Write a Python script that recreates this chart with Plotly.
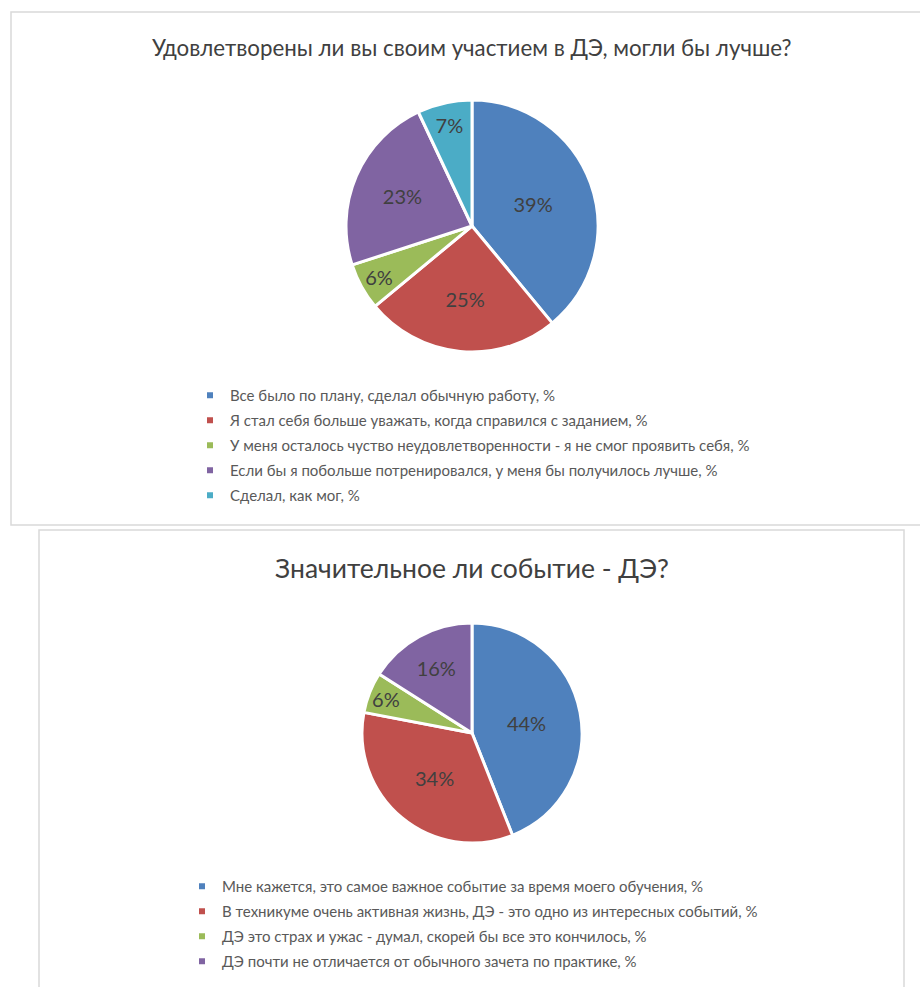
import plotly.graph_objects as go

W, H = 920, 987

# ---- data ----
title1 = "Удовлетворены ли вы своим участием в ДЭ, могли бы лучше?"
labels1 = [
    "Все было по плану, сделал обычную работу, %",
    "Я стал себя больше уважать, когда справился с заданием, %",
    "У меня осталось чуство неудовлетворенности - я не смог проявить себя, %",
    "Если бы я побольше потренировался, у меня бы получилось лучше, %",
    "Сделал, как мог, %",
]
values1 = [39, 25, 6, 23, 7]

title2 = "Значительное ли событие - ДЭ?"
labels2 = [
    "Мне кажется, это самое важное событие за время моего обучения, %",
    "В техникуме очень активная жизнь, ДЭ - это одно из интересных событий, %",
    "ДЭ это страх и ужас - думал, скорей бы все это кончилось, %",
    "ДЭ почти не отличается от обычного зачета по практике, %",
]
values2 = [44, 34, 6, 16]

colors = ["#4F81BD", "#C0504D", "#9BBB59", "#8064A2", "#4BACC6"]

FONT = "Lato"
TXT = "#404040"
LEG = "#595959"


def fx(x):
    return x / W


def fy(y):
    return 1 - y / H


fig = go.Figure()


def add_pie(labels, values, cx, cy, r, legend):
    fig.add_trace(go.Pie(
        labels=labels, values=values,
        text=[f"{v}%" for v in values], textinfo="text",
        textposition="inside", insidetextorientation="horizontal",
        textfont=dict(family=FONT, size=20, color=TXT),
        marker=dict(colors=colors[:len(values)], line=dict(color="white", width=3)),
        sort=False, direction="clockwise", rotation=0,
        domain=dict(x=[fx(cx - r), fx(cx + r)], y=[fy(cy + r), fy(cy - r)]),
        showlegend=False, hoverinfo="label+percent",
    ))
    for i, lab in enumerate(labels):
        fig.add_trace(go.Scatter(
            x=[None], y=[None], mode="markers", name=lab,
            marker=dict(symbol="square", size=6, color=colors[i]),
            legend=legend, legendgroup=f"{legend}_{i}", showlegend=True,
        ))


add_pie(labels1, values1, 472, 226, 126, "legend")
add_pie(labels2, values2, 472, 733, 110, "legend2")

leg_common = dict(
    font=dict(family=FONT, size=15, color=LEG),
    bgcolor="rgba(0,0,0,0)", borderwidth=0,
    tracegroupgap=2.5, xanchor="left", yanchor="top", traceorder="grouped",
)
fig.update_layout(
    width=W, height=H,
    margin=dict(l=0, r=0, t=0, b=0),
    paper_bgcolor="white", plot_bgcolor="white",
    xaxis=dict(visible=False), yaxis=dict(visible=False),
    legend=dict(x=fx(190), y=fy(379), **leg_common),
    legend2=dict(x=fx(182), y=fy(870), **leg_common),
    uniformtext=dict(mode="show", minsize=20),
    shapes=[
        dict(type="rect", xref="paper", yref="paper",
             x0=fx(11), x1=fx(930), y0=fy(525), y1=fy(12),
             line=dict(color="#D9D9D9", width=1.5)),
        dict(type="rect", xref="paper", yref="paper",
             x0=fx(39), x1=fx(904), y0=fy(1000), y1=fy(530),
             line=dict(color="#D9D9D9", width=1.5)),
    ],
    annotations=[
        dict(text=title1, x=fx(471), y=fy(47), xref="paper", yref="paper",
             showarrow=False, xanchor="center", yanchor="middle",
             font=dict(family=FONT, size=22.3, color=TXT)),
        dict(text=title2, x=fx(472), y=fy(568), xref="paper", yref="paper",
             showarrow=False, xanchor="center", yanchor="middle",
             font=dict(family=FONT, size=26.5, color=TXT)),
    ],
)

fig.write_html("out.html")
